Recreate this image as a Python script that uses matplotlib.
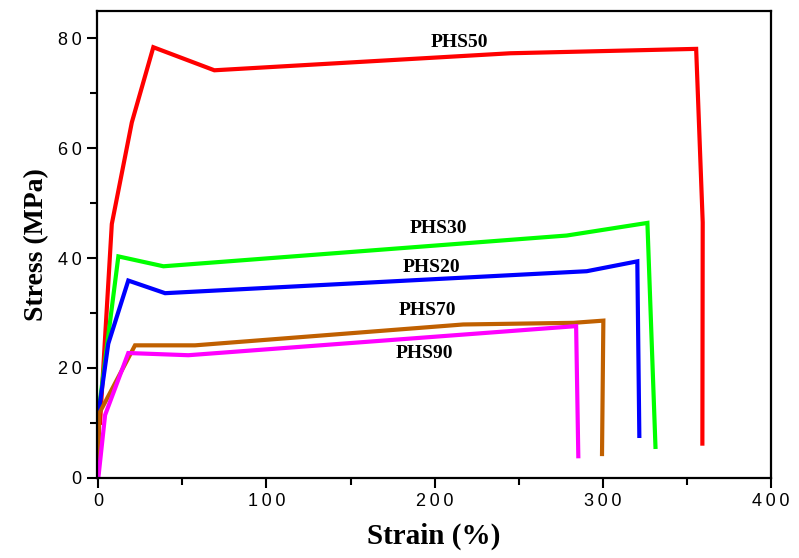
import numpy as np
import matplotlib
matplotlib.use("Agg")
import matplotlib.pyplot as plt
from matplotlib.ticker import MultipleLocator, FuncFormatter

# Stress-strain curves
phs50_strain = [1, 8, 19.9, 32.7, 69, 245, 355.6, 359.5, 359.3]
phs50_stress = [10, 46.2, 64.7, 78.4, 74.2, 77.3, 78.1, 46.5, 6.2]

phs30_strain = [0, 11.9, 38.7, 278.6, 326.6, 331.4]
phs30_stress = [11.7, 40.3, 38.5, 44.1, 46.4, 5.6]

phs20_strain = [0, 5.9, 17.8, 39.7, 290.5, 320.6, 321.8]
phs20_stress = [11.5, 24.4, 35.9, 33.6, 37.6, 39.4, 7.6]

phs70_strain = [0, 0.5, 21.8, 57.5, 217, 282.6, 300.4, 299.6]
phs70_stress = [1, 11.7, 24.1, 24.1, 27.9, 28.2, 28.6, 4.3]

phs90_strain = [0, 4, 17.8, 53.5, 284.2, 285.5]
phs90_stress = [0, 11.4, 22.7, 22.3, 27.6, 3.9]

series_names = ["PHS50", "PHS30", "PHS20", "PHS70", "PHS90"]
series_colors = ["#ff0000", "#00ff00", "#0000ff", "#c06000", "#ff00ff"]
label_pos = [(215, 79.2), (202, 45.4), (198, 38.3), (196, 30.4), (194, 22.6)]

serif = ["Liberation Serif", "DejaVu Serif"]
sans = ["Liberation Sans", "DejaVu Sans"]

fig = plt.figure(figsize=(7.99, 5.58), dpi=100)
ax = fig.add_axes([0.121, 0.144, 0.8437, 0.8363])

curves = [
    (phs50_strain, phs50_stress),
    (phs30_strain, phs30_stress),
    (phs20_strain, phs20_stress),
    (phs70_strain, phs70_stress),
    (phs90_strain, phs90_stress),
]
for (x, y), color in zip(curves, series_colors):
    ax.plot(x, y, color=color, lw=3, solid_joinstyle="miter")

for name, (lx, ly) in zip(series_names, label_pos):
    ax.text(lx, ly, name, ha="center", va="center", fontsize=14,
            fontweight="bold", family=serif)

ax.set_xlim(-1, 400)
ax.set_ylim(0, 85)
ax.xaxis.set_major_locator(MultipleLocator(100))
ax.xaxis.set_minor_locator(MultipleLocator(50))
ax.yaxis.set_major_locator(MultipleLocator(20))
ax.yaxis.set_minor_locator(MultipleLocator(10))

spaced = FuncFormatter(lambda v, pos: "\u2009".join(str(int(round(v)))))
ax.xaxis.set_major_formatter(spaced)
ax.yaxis.set_major_formatter(spaced)

ax.tick_params(which="major", direction="out", length=7, width=1.5,
               labelsize=13, pad=4)
ax.tick_params(which="minor", direction="out", length=5, width=1.5)
for lab in ax.get_xticklabels() + ax.get_yticklabels():
    lab.set_family(sans)

for sp in ax.spines.values():
    sp.set_linewidth(1.6)

ax.set_xlabel("Strain (%)", fontsize=21, fontweight="bold", family=serif,
              labelpad=9)
ax.set_ylabel("Stress (MPa)", fontsize=20, fontweight="bold", family=serif,
              labelpad=6)

fig.savefig("out.png", dpi=100)
